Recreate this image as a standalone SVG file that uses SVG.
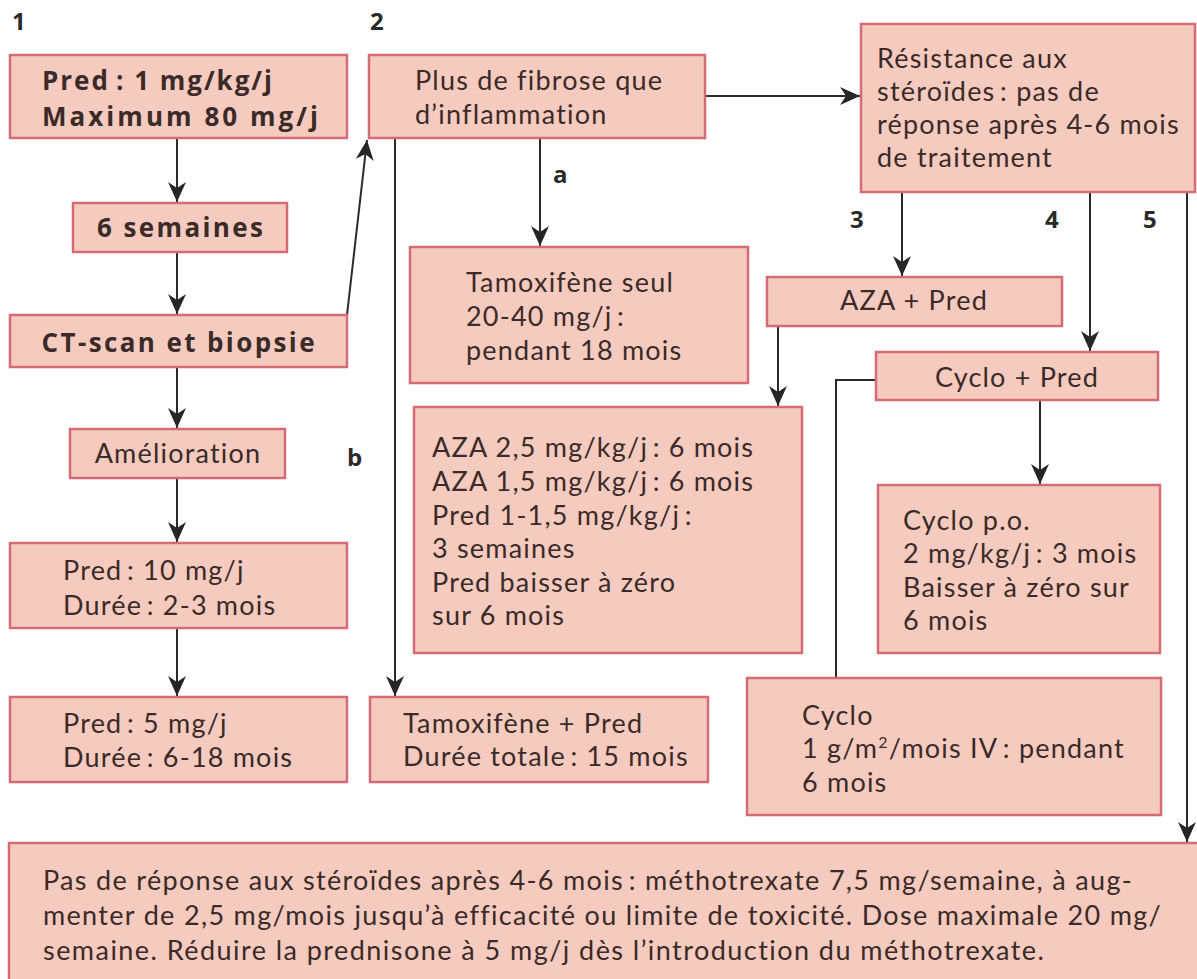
<svg xmlns="http://www.w3.org/2000/svg" width="1197" height="979" viewBox="0 0 1197 979">
  <defs>
    <marker id="arrow" viewBox="0 0 20 18" refX="20" refY="9" markerWidth="20" markerHeight="18" markerUnits="userSpaceOnUse" orient="auto">
      <path d="M0,0 L20,9 L0,18 L6,9 Z" fill="#262626"/>
    </marker>
    <style>
      .box { fill: #f6cbbf; stroke: #d56b77; stroke-width: 2.5; }
      .t { font-family: Lato, "Open Sans", "Liberation Sans", sans-serif; font-size: 27px; letter-spacing: 1.2px; fill: #3a2a28; }
      .b { font-family: "Open Sans", Lato, "Liberation Sans", sans-serif; font-size: 26px; font-weight: bold; letter-spacing: 0; }
      .mid { text-anchor: middle; }
      .lbl { font-family: "Open Sans", Lato, "Liberation Sans", sans-serif; font-size: 24px; font-weight: bold; fill: #2a2a2a; }
      .conn line, .conn polyline { stroke: #2a2a2a; stroke-width: 2; fill: none; }
      .arr { marker-end: url(#arrow); }
    </style>
  </defs>

  <rect width="1197" height="979" fill="#ffffff"/>

  <!-- column / branch labels -->
  <g id="labels">
    <text class="lbl" x="12" y="30">1</text>
    <text class="lbl" x="370" y="30">2</text>
    <text class="lbl" x="553" y="183">a</text>
    <text class="lbl" x="347" y="466">b</text>
    <text class="lbl" x="850" y="228">3</text>
    <text class="lbl" x="1045" y="228">4</text>
    <text class="lbl" x="1143" y="228">5</text>
  </g>

  <!-- connectors -->
  <g id="connectors" class="conn">
    <line class="arr" x1="177" y1="138" x2="177" y2="202"/>
    <line class="arr" x1="177" y1="252" x2="177" y2="314"/>
    <line class="arr" x1="177" y1="367" x2="177" y2="428"/>
    <line class="arr" x1="177" y1="478" x2="177" y2="542"/>
    <line class="arr" x1="177" y1="628" x2="177" y2="696"/>
    <line class="arr" x1="347" y1="315" x2="367" y2="140"/>
    <line class="arr" x1="540" y1="138" x2="540" y2="246"/>
    <line class="arr" x1="395" y1="138" x2="395" y2="696"/>
    <line class="arr" x1="705" y1="96" x2="860" y2="96"/>
    <line class="arr" x1="902" y1="192" x2="902" y2="276"/>
    <line class="arr" x1="1090" y1="192" x2="1090" y2="351"/>
    <line class="arr" x1="1187" y1="192" x2="1187" y2="842"/>
    <line class="arr" x1="778" y1="326" x2="778" y2="406"/>
    <line class="arr" x1="1040" y1="400" x2="1040" y2="484"/>
    <polyline points="876,380 836,380 836,678"/>
  </g>

  <!-- column 1 -->
  <g id="pred-initial">
    <rect class="box" x="10" y="55" width="337" height="83"/>
    <text class="t b" x="42" y="90" textLength="230" lengthAdjust="spacing">Pred&#8201;: 1 mg/kg/j</text>
    <text class="t b" x="42" y="126" textLength="276" lengthAdjust="spacing">Maximum 80 mg/j</text>
  </g>
  <g id="six-weeks">
    <rect class="box" x="73" y="203" width="214" height="49"/>
    <text class="t b mid" x="180" y="237" textLength="166" lengthAdjust="spacing">6 semaines</text>
  </g>
  <g id="ct-scan">
    <rect class="box" x="10" y="315" width="337" height="52"/>
    <text class="t b mid" x="178" y="352" textLength="273" lengthAdjust="spacing">CT-scan et biopsie</text>
  </g>
  <g id="improvement">
    <rect class="box" x="70" y="429" width="215" height="49"/>
    <text class="t mid" x="178" y="463">Amélioration</text>
  </g>
  <g id="pred-10">
    <rect class="box" x="10" y="543" width="337" height="85"/>
    <text class="t" x="63" y="580">Pred&#8201;: 10 mg/j</text>
    <text class="t" x="63" y="615">Durée&#8201;: 2-3 mois</text>
  </g>
  <g id="pred-5">
    <rect class="box" x="10" y="697" width="337" height="85"/>
    <text class="t" x="63" y="733">Pred&#8201;: 5 mg/j</text>
    <text class="t" x="63" y="767">Durée&#8201;: 6-18 mois</text>
  </g>

  <!-- column 2 -->
  <g id="fibrosis">
    <rect class="box" x="369" y="55" width="336" height="83"/>
    <text class="t" x="415" y="90">Plus de fibrose que</text>
    <text class="t" x="415" y="124">d’inflammation</text>
  </g>
  <g id="tamoxifen-alone">
    <rect class="box" x="410" y="247" width="338" height="136"/>
    <text class="t" x="466" y="292">Tamoxifène seul</text>
    <text class="t" x="466" y="326">20-40 mg/j&#8201;:</text>
    <text class="t" x="466" y="360">pendant 18 mois</text>
  </g>
  <g id="aza-dosing">
    <rect class="box" x="414" y="407" width="388" height="246"/>
    <text class="t" x="432" y="457">AZA 2,5 mg/kg/j&#8201;: 6 mois</text>
    <text class="t" x="432" y="491">AZA 1,5 mg/kg/j&#8201;: 6 mois</text>
    <text class="t" x="432" y="525">Pred 1-1,5 mg/kg/j&#8201;:</text>
    <text class="t" x="432" y="558">3 semaines</text>
    <text class="t" x="432" y="592">Pred baisser à zéro</text>
    <text class="t" x="432" y="625">sur 6 mois</text>
  </g>
  <g id="tamoxifen-pred">
    <rect class="box" x="370" y="697" width="338" height="85"/>
    <text class="t" x="403" y="733">Tamoxifène + Pred</text>
    <text class="t" x="403" y="766">Durée totale&#8201;: 15 mois</text>
  </g>

  <!-- steroid resistance branches -->
  <g id="resistance">
    <rect class="box" x="861" y="24" width="334" height="168"/>
    <text class="t" x="877" y="68">Résistance aux</text>
    <text class="t" x="877" y="101">stéroïdes&#8201;: pas de</text>
    <text class="t" x="877" y="134">réponse après 4-6 mois</text>
    <text class="t" x="877" y="167">de traitement</text>
  </g>
  <g id="aza-pred">
    <rect class="box" x="767" y="277" width="295" height="49"/>
    <text class="t mid" x="914" y="310">AZA + Pred</text>
  </g>
  <g id="cyclo-pred">
    <rect class="box" x="876" y="352" width="282" height="48"/>
    <text class="t mid" x="1017" y="387">Cyclo + Pred</text>
  </g>
  <g id="cyclo-oral">
    <rect class="box" x="878" y="485" width="282" height="168"/>
    <text class="t" x="903" y="530">Cyclo p.o.</text>
    <text class="t" x="903" y="563">2 mg/kg/j&#8201;: 3 mois</text>
    <text class="t" x="903" y="597">Baisser à zéro sur</text>
    <text class="t" x="903" y="630">6 mois</text>
  </g>
  <g id="cyclo-iv">
    <rect class="box" x="747" y="678" width="414" height="137"/>
    <text class="t" x="802" y="725">Cyclo</text>
    <text class="t" x="802" y="758">1 g/m<tspan font-size="16" dy="-10">2</tspan><tspan dy="10">/mois IV&#8201;: pendant</tspan></text>
    <text class="t" x="802" y="792">6 mois</text>
  </g>

  <!-- methotrexate note -->
  <g id="methotrexate">
    <rect class="box" x="9" y="843" width="1200" height="150"/>
    <text class="t" x="43" y="890" textLength="1090" lengthAdjust="spacing">Pas de réponse aux stéroïdes après 4-6 mois&#8201;: méthotrexate 7,5 mg/semaine, à aug-</text>
    <text class="t" x="43" y="925" textLength="1119" lengthAdjust="spacing">menter de 2,5 mg/mois jusqu’à efficacité ou limite de toxicité. Dose maximale 20 mg/</text>
    <text class="t" x="43" y="960" textLength="1002" lengthAdjust="spacing">semaine. Réduire la prednisone à 5 mg/j dès l’introduction du méthotrexate.</text>
  </g>
</svg>
